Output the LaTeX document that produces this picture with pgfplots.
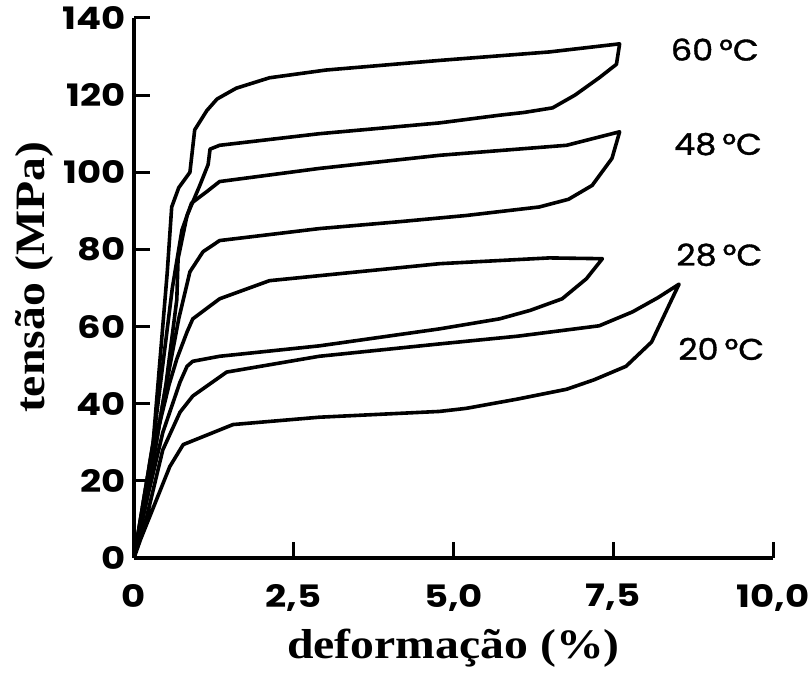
\documentclass[border=0pt]{standalone}
\usepackage{fontspec}
\usepackage{pgfplots}
\pgfplotsset{compat=1.18}
\newfontfamily\tickfont[FakeStretch=1.2]{Poppins}
\newfontfamily\tempfont[FakeStretch=1.12, FakeBold=1.2]{Poppins}
\newfontfamily\labfont[FakeStretch=1.14]{Liberation Serif}
\begin{document}
\begin{tikzpicture}
\useasboundingbox (-67bp,-58.5bp) rectangle (338bp,279bp);
\begin{axis}[
  at={(0,0)}, anchor=south west,
  scale only axis, width=319.5bp, height=270bp,
  xmin=0, xmax=10, ymin=0, ymax=140,
  clip=false,
  axis x line=bottom, axis y line=left,
  axis line style={-, line width=2bp},
  xtick={0,2.5,5,7.5,10}, xticklabels={0,{2,5},{5,0},{7,5},{10,0}},
  ytick={0,20,40,60,80,100,120,140}, yticklabels={0,20,40,60,80,100,120,140},
  tick align=inside, major tick length=8bp,
  tick style={line width=1.5bp, black},
  ticklabel style={font=\tickfont\bfseries\fontsize{15.5}{16}\selectfont},
  xticklabel style={anchor=north, inner sep=0pt, yshift=-13bp},
  yticklabel style={anchor=east, inner sep=0pt, xshift=-4bp},
  xlabel={deformação (\%)},
  ylabel={tensão (MPa)},
  xlabel style={at={([yshift=-50bp]axis description cs:0.5,0)}, anchor=base, inner sep=0pt, font=\labfont\bfseries\fontsize{21}{22}\selectfont},
  ylabel style={at={([xshift=-44.5bp]axis description cs:0,0.52)}, anchor=base, inner sep=0pt, font=\labfont\bfseries\fontsize{21}{22}\selectfont},
]
% 60 C
\addplot[black, mark=none, line width=1.8bp, line join=round] coordinates {(0,0) (0.3,30) (0.52,74) (0.59,91) (0.7,96) (0.875,100) (0.95,111) (1.14,116) (1.3,119) (1.6,121.8) (2.12,124.5) (3.0,126.5) (4.78,129) (6.5,131.2) (7.6,133.3) (7.55,128) (7.28,124.5) (6.9,120) (6.55,116.7) (6.1,115.5) (5.72,114.8) (4.78,112.8) (2.9,110) (1.34,107) (1.19,106) (1.16,102) (1.03,96.6) (0.83,88.8) (0.69,77.6) (0.67,67) (0.5,45) (0.25,20) (0,0)};
% 48 C
\addplot[black, mark=none, line width=1.8bp, line join=round] coordinates {(0,0) (0.3,30) (0.6,70) (0.75,85) (0.9,92) (1.14,95) (1.34,97.6) (2.9,101) (4.78,104.4) (6.77,107) (7.6,110.5) (7.48,103.6) (7.17,96.6) (6.8,93) (6.34,91) (5.2,88.8) (4.16,87.2) (2.9,85.4) (1.34,82.3) (1.08,79.4) (0.875,74.2) (0.7,62) (0.45,40) (0.2,15) (0,0)};
% 28 C
\addplot[black, mark=none, line width=1.8bp, line join=round] coordinates {(0,0) (0.3,28) (0.55,45) (0.67,51.6) (0.83,58.6) (0.92,62) (1.34,67.2) (2.12,71.9) (4.78,76.3) (6.5,77.8) (7.33,77.6) (7.08,72.4) (6.7,67.2) (6.2,64.2) (5.72,62) (4.78,59.4) (2.9,55) (1.34,52.3) (0.92,51) (0.83,49.7) (0.72,45.6) (0.45,32.5) (0.2,15) (0,0)};
% 20 C
\addplot[black, mark=none, line width=1.8bp, line join=round] coordinates {(0,0) (0.2,10.7) (0.45,28) (0.72,37.8) (0.92,42) (1.45,48.2) (2.9,52.3) (4.78,55.5) (6.0,57.5) (7.28,60.2) (7.8,63.8) (8.2,67.5) (8.53,71) (8.42,67.2) (8.1,56) (7.7,49.7) (7.2,46.2) (6.77,43.75) (6.0,41.2) (5.2,38.8) (4.78,38) (2.9,36.5) (1.55,34.6) (0.77,29.4) (0.56,23.7) (0.1,4.7) (0,0)};
\node[font=\tempfont\fontsize{15}{15}\selectfont] at (axis cs:9.09,131.8) {60\hspace{3bp}°C};
\node[font=\tempfont\fontsize{15}{15}\selectfont] at (axis cs:9.14,107.3) {48\hspace{3bp}°C};
\node[font=\tempfont\fontsize{15}{15}\selectfont] at (axis cs:9.16,78.6) {28\hspace{3bp}°C};
\node[font=\tempfont\fontsize{15}{15}\selectfont] at (axis cs:9.19,54.2) {20\hspace{3bp}°C};
\end{axis}
\end{tikzpicture}
\end{document}
